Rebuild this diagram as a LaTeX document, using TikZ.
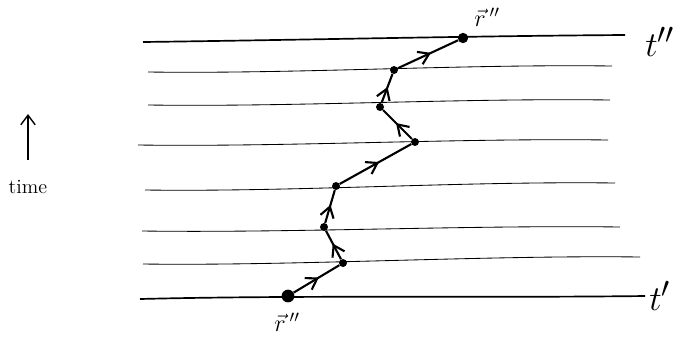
\documentclass[tikz,border=0pt]{standalone}
\usepackage{amsmath}
\usetikzlibrary{arrows.meta,decorations.markings}

\begin{document}
\begin{tikzpicture}[x=0.025cm, y=-0.025cm, font=\LARGE,
  pt/.style={circle, fill=black, inner sep=2pt},
  bigpt/.style={circle, fill=black, inner sep=3.2pt},
  leg/.style={line width=1.5pt, postaction={decorate},
    decoration={markings, mark=at position 0.55 with {\arrow{Straight Barb[length=2.6mm, width=3.4mm]}}}}]
\useasboundingbox (0,0) rectangle (696,358);
% time slices
\foreach \xa/\ya/\xb/\yb in {148/72/612/66, 148/105/610/100, 138/145/608/140,
                             145/190/615/183, 142/231/620/227, 143/264/640/257}
  \draw[line width=0.6pt] (\xa,\ya) .. controls (\xa+150,\ya+2) and (\xb-150,\yb-2) .. (\xb,\yb);
\draw[line width=1.2pt] (143,42) .. controls (300,40) and (470,36) .. (625,35);
\draw[line width=1.2pt] (140,299) .. controls (300,295) and (480,298) .. (645,296);
% path points
\node[bigpt] (a) at (288,296) {};
\node[pt] (b) at (343,263) {};
\node[pt] (c) at (324,227) {};
\node[pt] (d) at (336,186) {};
\node[pt] (e) at (415,142) {};
\node[pt] (f) at (380,107) {};
\node[pt] (g) at (394,70) {};
\node[pt, inner sep=2.6pt] (h) at (463,38) {};
\foreach \p/\q in {a/b, b/c, c/d, d/e, e/f, f/g, g/h}
  \draw[leg] (\p) -- (\q);
% labels
\node (rend) at (487,17) {$\vec{r}\,''$};
\node (rbeg) at (287,322) {$\vec{r}\,''$};
\node (tend) at (660,42) {\fontsize{28}{30}\selectfont $t''$};
\node (tbeg) at (660,296) {\fontsize{28}{30}\selectfont $t'$};
% time
\node (tlab) at (28,187) {\Large time};
\coordinate (tail) at (28,160);
\coordinate (tip) at (28,114);
\draw[line width=1pt, -{Straight Barb[length=2.4mm, width=3.6mm]}] (tail) -- (tip);
\end{tikzpicture}
\end{document}
